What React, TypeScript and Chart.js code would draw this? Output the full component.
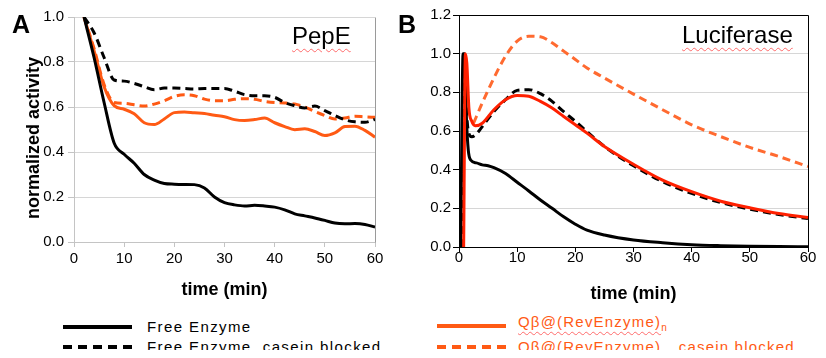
import React, { useEffect, useRef } from "react";
import { Chart, registerables } from "chart.js";

Chart.register(...registerables);

const FONT = "'Liberation Sans', Arial, Helvetica, sans-serif";

// ---------- Panel A : PepE ----------
const aTime = [2, 4, 6, 8, 10, 12, 14, 16, 18, 20, 22, 24, 26, 28, 30, 32, 34, 36, 38, 40, 42, 44, 46, 48, 50, 52, 54, 56, 58, 60];
const aFree = [1.0, 0.82, 0.62, 0.44, 0.39, 0.35, 0.30, 0.275, 0.26, 0.257, 0.256, 0.255, 0.24, 0.2, 0.175, 0.165, 0.16, 0.163, 0.16, 0.155, 0.143, 0.125, 0.116, 0.107, 0.096, 0.084, 0.081, 0.082, 0.078, 0.066];
const aFreeCasein = [1.0, 0.93, 0.82, 0.72, 0.715, 0.705, 0.69, 0.677, 0.684, 0.684, 0.682, 0.68, 0.682, 0.682, 0.682, 0.67, 0.655, 0.65, 0.65, 0.643, 0.62, 0.606, 0.596, 0.604, 0.584, 0.562, 0.543, 0.534, 0.532, 0.545];
const aQb = [1.0, 0.85, 0.69, 0.606, 0.59, 0.57, 0.53, 0.522, 0.547, 0.575, 0.578, 0.574, 0.571, 0.563, 0.557, 0.544, 0.54, 0.544, 0.551, 0.53, 0.513, 0.499, 0.503, 0.491, 0.473, 0.485, 0.513, 0.515, 0.496, 0.466];
const aQbCasein = [1.0, 0.86, 0.7, 0.62, 0.616, 0.61, 0.604, 0.613, 0.628, 0.647, 0.654, 0.65, 0.635, 0.628, 0.628, 0.634, 0.637, 0.634, 0.625, 0.62, 0.618, 0.613, 0.6, 0.58, 0.562, 0.547, 0.551, 0.559, 0.556, 0.554];

// ---------- Panel B : Luciferase ----------
const bFreeTime = [0.3, 0.7, 0.95, 1.3, 1.6, 2.0, 3, 4, 5, 6, 8, 10, 12, 14, 16, 18, 20, 22, 25, 30, 35, 40, 45, 50, 55, 60];
const bFree = [0, 1.0, 1.0, 0.65, 0.5, 0.45, 0.435, 0.425, 0.42, 0.41, 0.38, 0.335, 0.29, 0.243, 0.2, 0.156, 0.118, 0.087, 0.062, 0.036, 0.022, 0.012, 0.007, 0.004, 0.002, 0.001];
const bFreeCaseinTime = [0.6, 0.9, 1.2, 1.6, 2.2, 3, 4, 6, 8, 10, 12, 14, 16, 18, 20, 22, 25, 30, 35, 40, 45, 50, 55, 60];
const bFreeCasein = [0, 1.0, 0.75, 0.6, 0.57, 0.585, 0.623, 0.7, 0.762, 0.81, 0.814, 0.793, 0.753, 0.7, 0.65, 0.597, 0.52, 0.42, 0.338, 0.277, 0.23, 0.196, 0.168, 0.147];
const bQbTime = [0.8, 1.1, 1.35, 1.7, 2.2, 2.8, 4, 6, 8, 10, 12, 14, 16, 18, 20, 22, 25, 30, 35, 40, 45, 50, 55, 60];
const bQb = [0, 1.0, 0.95, 0.72, 0.65, 0.627, 0.64, 0.71, 0.762, 0.784, 0.78, 0.753, 0.719, 0.675, 0.632, 0.589, 0.52, 0.428, 0.346, 0.286, 0.237, 0.203, 0.173, 0.152];
const bQbCaseinTime = [2.5, 3, 4, 6, 8, 10, 12, 14, 16, 18, 20, 22, 25, 30, 35, 40, 45, 50, 55, 60];
const bQbCasein = [0.64, 0.675, 0.745, 0.874, 0.987, 1.065, 1.09, 1.087, 1.056, 1.013, 0.97, 0.926, 0.874, 0.791, 0.71, 0.632, 0.571, 0.515, 0.468, 0.416];

const seriesNames = ["Free Enzyme", "Free Enzyme, casein blocked", "Qβ@(RevEnzyme)", ", casein blocked"];

const BLACK = "#000000";
const ORANGE = "#ff5a14";
const RED_B = "#ff2000";
const ORANGE_B = "#ff6a30";

const pts = (xs: number[], ys: number[]) => xs.map((x, i) => ({ x, y: ys[i] }));

const framePlugin = {
  id: "frame",
  afterDatasetsDraw(chart: any, _args: any, opts: any) {
    const { ctx, chartArea } = chart;
    if (!opts || !opts.color) return;
    ctx.save();
    ctx.strokeStyle = opts.color;
    ctx.lineWidth = 1;
    ctx.beginPath();
    const l = Math.round(chartArea.left) + 0.5;
    const r = Math.round(chartArea.right) + 0.5;
    const t = Math.round(chartArea.top) + 0.5;
    const b = Math.round(chartArea.bottom) + 0.5;
    if (opts.top) {
      ctx.moveTo(l, t);
      ctx.lineTo(r, t);
    }
    ctx.moveTo(r, t);
    ctx.lineTo(r, b);
    ctx.stroke();
    ctx.restore();
  },
};

function lineDs(label: string, data: any[], color: string, dashed: boolean, order: number) {
  return {
    label,
    data,
    borderColor: color,
    backgroundColor: color,
    borderWidth: 3,
    borderDash: dashed ? [8, 5] : [],
    pointRadius: 0,
    fill: false,
    cubicInterpolationMode: "monotone",
    order,
  };
}

type Cfg = {
  yMax: number;
  yWidth: number;
  xHeight: number;
  padRight: number;
  axisColor: string;
  frameColor: string;
  frameTop: boolean;
  yTickPad: number;
  xTickPad: number;
  xTitlePadBottom: number;
  datasets: any[];
};

function makeConfig(c: Cfg): any {
  return {
    type: "line",
    data: { datasets: c.datasets },
    options: {
      animation: false,
      responsive: false,
      maintainAspectRatio: false,
      layout: { padding: { left: 0, right: c.padRight, top: 8, bottom: 0 } },
      plugins: {
        legend: { display: false },
        tooltip: { enabled: false },
        frame: { color: c.frameColor, top: c.frameTop },
      },
      scales: {
        x: {
          type: "linear",
          min: 0,
          max: 60,
          afterFit: (s: any) => {
            s.height = c.xHeight;
          },
          ticks: {
            stepSize: 10,
            color: "#000",
            padding: c.xTickPad,
            font: { family: FONT, size: 15 },
            maxRotation: 0,
          },
          grid: {
            drawOnChartArea: false,
            drawTicks: true,
            tickLength: 5,
            tickColor: c.axisColor,
          },
          border: { color: c.axisColor, width: 1 },
          title: {
            display: true,
            text: "time (min)",
            color: "#000",
            font: { family: FONT, size: 18, weight: "bold" },
            padding: { top: 0, bottom: c.xTitlePadBottom },
          },
        },
        y: {
          type: "linear",
          min: 0,
          max: c.yMax,
          afterFit: (s: any) => {
            s.width = c.yWidth;
          },
          ticks: {
            stepSize: 0.2,
            color: "#000",
            padding: c.yTickPad,
            font: { family: FONT, size: 15 },
            callback: (v: any) => Number(v).toFixed(1),
          },
          grid: {
            color: "#d6d6d6",
            lineWidth: 1,
            drawTicks: true,
            tickLength: 6,
            tickColor: c.axisColor,
          },
          border: { color: c.axisColor, width: 1 },
        },
      },
    },
    plugins: [framePlugin],
  };
}

function ChartCanvas({ config, width, height, style }: any) {
  const ref = useRef<HTMLCanvasElement | null>(null);
  useEffect(() => {
    if (!ref.current) return;
    const chart = new Chart(ref.current, config);
    return () => chart.destroy();
  }, []);
  return (
    <canvas
      ref={ref}
      width={width}
      height={height}
      style={{ position: "absolute", width, height, ...style }}
    />
  );
}

const wavy: React.CSSProperties = {
  textDecorationLine: "underline",
  textDecorationStyle: "wavy",
  textDecorationColor: "#ff6b6b",
  textDecorationThickness: "1px",
  textUnderlineOffset: "4px",
};

function LegendLine({ color, dashed, left, top }: any) {
  return (
    <div
      style={{
        position: "absolute",
        left,
        top,
        width: 69,
        height: 4,
        background: dashed
          ? `repeating-linear-gradient(to right, ${color} 0px, ${color} 9px, transparent 9px, transparent 15px)`
          : color,
      }}
    />
  );
}

export default function App() {
  const configA = makeConfig({
    yMax: 1.0,
    yWidth: 66,
    xHeight: 66,
    padRight: 25,
    axisColor: "#c4c4c4",
    frameColor: "#9a9a9a",
    frameTop: false,
    yTickPad: 4,
    xTickPad: 3,
    xTitlePadBottom: 7,
    datasets: [
      lineDs("Free Enzyme", pts(aTime, aFree), BLACK, false, 1),
      lineDs("Free Enzyme, casein blocked", pts(aTime, aFreeCasein), BLACK, true, 2),
      lineDs("Qβ@(RevEnzyme)n", pts(aTime, aQb), ORANGE, false, 3),
      lineDs("Qβ@(RevEnzyme)n, casein blocked", pts(aTime, aQbCasein), ORANGE, true, 4),
    ],
  });

  const configB = makeConfig({
    yMax: 1.2,
    yWidth: 59,
    xHeight: 61,
    padRight: 10,
    axisColor: "#000",
    frameColor: "#000",
    frameTop: true,
    yTickPad: 2,
    xTickPad: -3,
    xTitlePadBottom: 3,
    datasets: [
      lineDs("Qβ@(RevEnzyme)n", pts(bQbTime, bQb), RED_B, false, 1),
      lineDs("Free Enzyme", pts(bFreeTime, bFree), BLACK, false, 2),
      lineDs("Free Enzyme, casein blocked", pts(bFreeCaseinTime, bFreeCasein), BLACK, true, 3),
      lineDs("Qβ@(RevEnzyme)n, casein blocked", pts(bQbCaseinTime, bQbCasein), ORANGE_B, true, 4),
    ],
  });

  const legendText: React.CSSProperties = {
    position: "absolute",
    fontFamily: FONT,
    fontSize: 15,
    lineHeight: "20px",
    whiteSpace: "nowrap",
  };

  return (
    <div
      style={{
        position: "relative",
        width: 810,
        height: 350,
        marginBottom: -8,
        overflow: "hidden",
        background: "#fff",
        fontFamily: FONT,
      }}
    >
      <ChartCanvas config={configA} width={392} height={304} style={{ left: 0, top: -4 }} />
      <ChartCanvas config={configB} width={418} height={304} style={{ left: 392, top: -4 }} />

      <div
        style={{
          position: "absolute",
          left: 25,
          top: 130,
          transform: "translate(-50%, -50%) rotate(-90deg)",
          fontSize: 18,
          fontWeight: "bold",
          lineHeight: "20px",
          whiteSpace: "nowrap",
        }}
      >
        normalized activity
      </div>

      <div style={{ position: "absolute", left: 4, top: 4, fontSize: 25, fontWeight: "bold", lineHeight: "25px" }}>A</div>
      <div style={{ position: "absolute", left: 390, top: 4, fontSize: 25, fontWeight: "bold", lineHeight: "25px" }}>B</div>

      <div style={{ position: "absolute", left: 284, top: 16, fontSize: 24, lineHeight: "24px", ...wavy }}>PepE</div>
      <div style={{ position: "absolute", left: 674, top: 15, fontSize: 24, lineHeight: "24px", ...wavy }}>Luciferase</div>

      <LegendLine color={BLACK} dashed={false} left={55} top={317} />
      <LegendLine color={BLACK} dashed={true} left={55} top={337} />
      <div style={{ ...legendText, left: 139, top: 308.5, letterSpacing: "1.4px" }}>{seriesNames[0]}</div>
      <div style={{ ...legendText, left: 139, top: 328.5, letterSpacing: "1.4px" }}>{seriesNames[1]}</div>

      <LegendLine color={ORANGE} dashed={false} left={429} top={316} />
      <LegendLine color={ORANGE} dashed={true} left={429} top={337} />
      <div style={{ ...legendText, left: 510, top: 303.5, letterSpacing: "1.2px", color: ORANGE }}>
        <span style={wavy}>{seriesNames[2]}</span>
        <sub style={{ fontSize: 10 }}>n</sub>
      </div>
      <div style={{ ...legendText, left: 510, top: 328.5, letterSpacing: "1.2px", color: ORANGE }}>
        <span style={wavy}>{seriesNames[2]}</span>
        <sub style={{ fontSize: 10 }}>n</sub>
        <span>{seriesNames[3]}</span>
      </div>
    </div>
  );
}
